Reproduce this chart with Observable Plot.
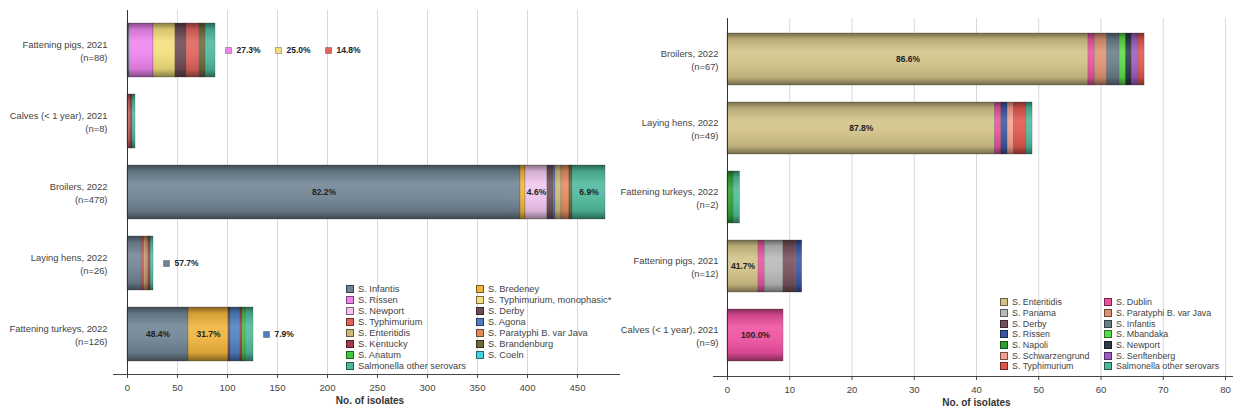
<!DOCTYPE html>
<html><head><meta charset="utf-8">
<script src="https://cdn.jsdelivr.net/npm/d3@7"></script>
<script src="https://cdn.jsdelivr.net/npm/@observablehq/plot@0.6"></script>
<style>
body{margin:0;background:#fff;font-family:"Liberation Sans",Arial,sans-serif;}
#wrap{position:relative;width:1233px;height:412px;overflow:hidden;background:#fff;}
.chart{position:absolute;top:0;overflow:visible;}
.legend{position:absolute;display:grid;color:#444;}
.legend .item{display:flex;align-items:center;white-space:nowrap;}
.legend .sw{width:8px;height:8px;border:1px solid rgba(0,0,0,.5);margin-right:4px;box-sizing:border-box;flex:none;}
</style>
</head><body>
<div id="wrap"></div>
<script>
// ---------- LEFT CHART DATA ----------
const leftCategories = ["Fattening pigs, 2021\n(n=88)", "Calves (< 1 year), 2021\n(n=8)", "Broilers, 2022\n(n=478)", "Laying hens, 2022\n(n=26)", "Fattening turkeys, 2022\n(n=126)"];
const leftSeries = ["S. Infantis", "S. Bredeney", "S. Rissen", "S. Typhimurium, monophasic*", "S. Newport", "S. Derby", "S. Typhimurium", "S. Agona", "S. Enteritidis", "S. Paratyphi B. var Java", "S. Kentucky", "S. Brandenburg", "S. Anatum", "S. Coeln", "Salmonella other serovars"];
const leftColors = ["#6f8393", "#f0b33c", "#ef84ef", "#f4df7c", "#f0c6ee", "#6d4b57", "#e0625b", "#4f7fc2", "#cdb878", "#e38a5c", "#a23c48", "#6a6b3c", "#3fc93f", "#43d2e2", "#4db99b"];
// counts per category, aligned with leftSeries
const leftPigs2021     = [2, 0, 24, 22, 0, 11, 13, 1, 0, 0, 0, 5, 0, 0, 10];
const leftCalves2021   = [0, 0, 0, 0, 0, 1, 2, 0, 0, 0, 1, 1, 0, 0, 3];
const leftBroilers2022 = [393, 5, 0, 0, 22, 6, 0, 2, 6, 8, 1, 2, 0, 0, 33];
const leftHens2022     = [15, 0, 0, 0, 0, 0, 2, 0, 2, 2, 2, 0, 0, 0, 3];
const leftTurkeys2022  = [61, 40, 0, 0, 0, 2, 0, 10, 0, 0, 2, 0, 3, 0, 8];
const leftCounts = [leftPigs2021, leftCalves2021, leftBroilers2022, leftHens2022, leftTurkeys2022];
const leftInside = [[2, "S. Infantis"], [2, "S. Newport"], [2, "Salmonella other serovars"], [4, "S. Infantis"], [4, "S. Bredeney"]];
const leftOutside = [[0, ["S. Rissen", "S. Typhimurium, monophasic*", "S. Typhimurium"]], [3, ["S. Infantis"]], [4, ["S. Agona"]]];
const leftTicks = [0, 50, 100, 150, 200, 250, 300, 350, 400, 450];

// ---------- RIGHT CHART DATA ----------
const rightCategories = ["Broilers, 2022\n(n=67)", "Laying hens, 2022\n(n=49)", "Fattening turkeys, 2022\n(n=2)", "Fattening pigs, 2021\n(n=12)", "Calves (< 1 year), 2021\n(n=9)"];
const rightSeries = ["S. Enteritidis", "S. Dublin", "S. Panama", "S. Paratyphi B. var Java", "S. Derby", "S. Infantis", "S. Rissen", "S. Mbandaka", "S. Napoli", "S. Newport", "S. Schwarzengrund", "S. Senftenberg", "S. Typhimurium", "Salmonella other serovars"];
const rightColors = ["#d2c287", "#ee4f9f", "#b9b9b9", "#dc9272", "#75505a", "#687c88", "#3b56a0", "#58dc48", "#2f9f34", "#2f3a48", "#f1a192", "#9b5dc1", "#df564c", "#4db99b"];
const rightBroilers2022 = [58, 1, 0, 2, 0, 2, 0, 1, 0, 1, 0, 1, 1, 0];
const rightHens2022     = [43, 1, 0, 0, 0, 0, 1, 0, 0, 0, 1, 0, 2, 1];
const rightTurkeys2022  = [0, 0, 0, 0, 0, 0, 0, 0, 1, 0, 0, 0, 0, 1];
const rightPigs2021     = [5, 1, 3, 0, 2, 0, 1, 0, 0, 0, 0, 0, 0, 0];
const rightCalves2021   = [0, 9, 0, 0, 0, 0, 0, 0, 0, 0, 0, 0, 0, 0];
const rightCounts = [rightBroilers2022, rightHens2022, rightTurkeys2022, rightPigs2021, rightCalves2021];
const rightInside = [[0, "S. Enteritidis"], [1, "S. Enteritidis"], [3, "S. Enteritidis"], [4, "S. Dublin"]];
const rightOutside = [];
const rightTicks = [0, 10, 20, 30, 40, 50, 60, 70, 80];

const axisTitle = "No. of isolates";

function shadeDefs(id) {
  return () => {
    const defs = d3.create("svg:defs");
    const g = defs.append("linearGradient").attr("id", id)
      .attr("x1", 0).attr("y1", 0).attr("x2", 0).attr("y2", 1);
    [[0, "#000", 0.45], [0.12, "#000", 0.12], [0.35, "#fff", 0.12], [0.55, "#fff", 0.08], [0.85, "#000", 0.1], [1, "#000", 0.45]]
      .forEach(([o, c, a]) => g.append("stop").attr("offset", o).attr("stop-color", c).attr("stop-opacity", a));
    return defs.node();
  };
}

function makeChart(cfg) {
  const rows = [];
  const totals = [];
  cfg.categories.forEach((cat, ci) => {
    const counts = cfg.counts[ci];
    const total = d3.sum(counts);
    totals.push(total);
    cfg.series.forEach((s, si) => {
      if (counts[si] > 0) {
        const lab = cfg.inside.some(([c, ss]) => c === ci && ss === s)
          ? (100 * counts[si] / total).toFixed(1) + "%" : null;
        rows.push({cat, series: s, count: counts[si], label: lab});
      }
    });
  });
  const outs = [];
  cfg.outside.forEach(([ci, list]) => {
    const total = totals[ci];
    list.forEach((s, i) => {
      const si = cfg.series.indexOf(s);
      outs.push({cat: cfg.categories[ci], series: s, x: total + cfg.gap + i * cfg.spacing,
                 label: (100 * cfg.counts[ci][si] / total).toFixed(1) + "%"});
    });
  });
  const gid = cfg.gradId;
  return Plot.plot({
    width: cfg.width, height: 412,
    marginLeft: cfg.marginLeft, marginRight: cfg.marginRight,
    marginTop: cfg.marginTop, marginBottom: cfg.marginBottom,
    style: {fontFamily: "'Liberation Sans', Arial, sans-serif", fontSize: "10px", color: "#444", background: "#fff", overflow: "visible"},
    x: {domain: cfg.xDomain, label: null},
    y: {domain: cfg.categories, paddingInner: 0.24, paddingOuter: cfg.po, label: null},
    color: {domain: cfg.series, range: cfg.colors},
    marks: [
      shadeDefs(gid),
      Plot.gridX(cfg.ticks.filter(t => t > 0), {stroke: "#d9d9d9", strokeOpacity: 1}),
      Plot.barX(rows, Plot.stackX({x: "count", y: "cat", fill: "series", stroke: "#555", strokeOpacity: 0.55, strokeWidth: 0.6})),
      Plot.barX(rows, Plot.stackX({x: "count", y: "cat", fill: `url(#${gid})`})),
      Plot.text(rows, Plot.stackX({x: "count", y: "cat", text: "label", fontWeight: "bold", fontSize: 8.5, fill: "#222"})),
      Plot.dot(outs, {x: "x", y: "cat", fill: "series", symbol: "square", r: 3.4, stroke: "#444", strokeWidth: 0.4}),
      Plot.text(outs, {x: "x", y: "cat", text: "label", dx: 8, textAnchor: "start", fontWeight: "bold", fontSize: 8.5, fill: "#222"}),
      Plot.frame({anchor: "bottom", stroke: "#444", insetLeft: -14, insetRight: -cfg.marginRight}),
      Plot.ruleX([0], {stroke: "#333"}),
      Plot.axisX(cfg.ticks, {tickSize: 4, tickPadding: 6, fontSize: 9.6, fill: "#444", stroke: "#444", label: null}),
      Plot.axisY({tickSize: 0, tickPadding: cfg.yPad, fontSize: 9.4, lineHeight: 1.35, fill: "#444", label: null}),
      Plot.text([axisTitle], {frameAnchor: "bottom", dy: 29, fontWeight: "bold", fontSize: 10, fill: "#333"})
    ]
  });
}

function makeLegend(series, colors, left, top, colWidth, rowH, fontSize) {
  const div = document.createElement("div");
  div.className = "legend";
  div.style.left = left + "px";
  div.style.top = top + "px";
  div.style.fontSize = fontSize + "px";
  div.style.gridTemplateColumns = colWidth + "px auto";
  div.style.gridAutoRows = rowH + "px";
  series.forEach((s, i) => {
    const it = document.createElement("div");
    it.className = "item";
    const sw = document.createElement("span");
    sw.className = "sw";
    sw.style.background = colors[i];
    it.appendChild(sw);
    it.appendChild(document.createTextNode(s));
    div.appendChild(it);
  });
  return div;
}

const wrap = document.getElementById("wrap");
const left = makeChart({
  categories: leftCategories, series: leftSeries, colors: leftColors, counts: leftCounts,
  inside: leftInside, outside: leftOutside, xDomain: [0, 485], ticks: leftTicks,
  width: 620, marginLeft: 127, marginRight: 8, marginTop: 10, marginBottom: 38, po: 0.183,
  gap: 13, spacing: 50, gradId: "shadeL", yPad: 20
});
left.classList.add("chart"); left.style.left = "0px";
wrap.appendChild(left);
const right = makeChart({
  categories: rightCategories, series: rightSeries, colors: rightColors, counts: rightCounts,
  inside: rightInside, outside: rightOutside, xDomain: [0, 80], ticks: rightTicks,
  width: 613, marginLeft: 107, marginRight: 8, marginTop: 18, marginBottom: 36, po: 0.186,
  gap: 1, spacing: 5, gradId: "shadeR", yPad: 9
});
right.classList.add("chart"); right.style.left = "620px";
wrap.appendChild(right);
wrap.appendChild(makeLegend(leftSeries, leftColors, 346, 283, 130, 11, 9.3));
wrap.appendChild(makeLegend(rightSeries, rightColors, 1000, 297, 104, 10.7, 8.9));
</script>
</body></html>
